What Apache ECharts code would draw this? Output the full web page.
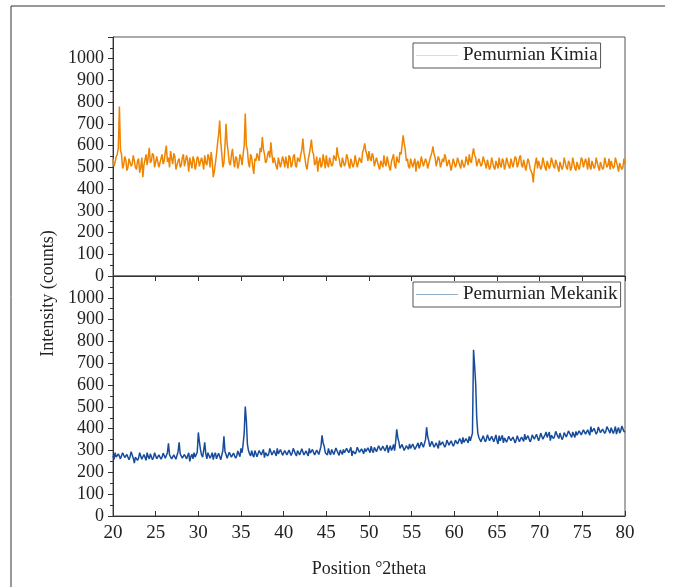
<!DOCTYPE html>
<html>
<head>
<meta charset="utf-8">
<script src="https://cdn.jsdelivr.net/npm/echarts@6/dist/echarts.min.js"></script>
<style>
  html, body { margin: 0; padding: 0; background: #fff; }
  #chart { width: 680px; height: 587px; }
</style>
</head>
<body>
<div id="chart"></div>
<script>
// scan settings, degrees 2theta
const startAngle = 20;
const stepAngle = 0.125;

const yTicks = [0, 100, 200, 300, 400, 500, 600, 700, 800, 900, 1000];

// counts, one row = 5 degrees
const kimia = [
  540, 505, 525, 550, 560, 590, 780, 580, 560, 495, 510, 550, 535, 485, 500, 540, 545, 505, 515, 555, 530, 500, 490, 530, 540, 475, 500, 545, 455, 510, 535, 560, 510, 545, 590, 520, 530, 565, 555, 500,
  505, 550, 545, 500, 520, 540, 560, 515, 530, 570, 600, 525, 545, 500, 575, 540, 515, 565, 550, 490, 495, 530, 540, 500, 510, 545, 560, 505, 500, 555, 530, 480, 545, 520, 495, 550, 535, 490, 510, 550,
  540, 505, 500, 545, 525, 490, 555, 520, 510, 560, 545, 500, 570, 530, 455, 480, 520, 560, 610, 650, 715, 620, 560, 500, 520, 600, 700, 610, 570, 520, 510, 555, 585, 530, 500, 550, 540, 495, 515, 560,
  545, 510, 560, 600, 748, 600, 580, 520, 500, 560, 545, 505, 470, 540, 530, 565, 560, 530, 590, 570, 640, 585, 560, 520, 530, 560, 575, 545, 615, 560, 520, 545, 550, 505, 490, 545, 540, 500, 505, 550,
  530, 500, 550, 520, 495, 555, 545, 500, 515, 550, 560, 510, 500, 545, 550, 525, 560, 580, 633, 570, 540, 505, 490, 535, 560, 590, 628, 575, 560, 510, 520, 550, 480, 525, 545, 500, 510, 560, 530, 495,
  555, 515, 500, 545, 540, 505, 515, 555, 560, 530, 592, 555, 540, 510, 500, 545, 550, 505, 520, 560, 545, 510, 495, 540, 535, 500, 515, 555, 550, 500, 505, 545, 545, 520, 570, 585, 610, 575, 560, 530,
  575, 540, 530, 565, 550, 505, 500, 545, 540, 505, 490, 530, 530, 500, 555, 520, 505, 550, 545, 500, 485, 525, 530, 560, 510, 495, 550, 530, 520, 570, 560, 600, 647, 610, 580, 530, 540, 505, 495, 540,
  535, 500, 505, 540, 480, 520, 530, 495, 510, 550, 545, 505, 500, 540, 525, 495, 490, 535, 540, 570, 596, 560, 545, 505, 510, 550, 535, 500, 495, 540, 525, 560, 545, 505, 500, 535, 530, 485, 490, 540,
  535, 500, 515, 545, 550, 510, 495, 535, 530, 500, 510, 550, 545, 510, 560, 530, 520, 560, 587, 555, 545, 505, 500, 540, 540, 505, 515, 550, 555, 515, 495, 535, 530, 490, 505, 545, 540, 500, 490, 530,
  525, 495, 545, 510, 500, 540, 530, 490, 510, 545, 550, 505, 495, 540, 535, 500, 505, 550, 540, 500, 515, 545, 555, 510, 500, 535, 530, 485, 490, 540, 525, 495, 500, 470, 431, 490, 520, 545, 495, 530,
  530, 490, 505, 545, 545, 500, 485, 530, 525, 495, 510, 545, 550, 505, 495, 535, 530, 500, 480, 525, 525, 490, 505, 545, 545, 500, 490, 530, 520, 485, 500, 545, 540, 495, 485, 525, 525, 490, 510, 545,
  535, 500, 495, 540, 520, 490, 545, 505, 490, 530, 525, 495, 505, 545, 550, 500, 485, 525, 530, 490, 500, 545, 540, 500, 510, 540, 490, 530, 535, 495, 505, 545, 545, 505, 480, 520, 525, 490, 500, 540,
  515
];

// counts
const mekanik = [
  275, 260, 290, 270, 265, 285, 282, 262, 270, 290, 295, 268, 260, 282, 280, 258, 272, 295, 288, 265, 242, 270, 278, 255, 265, 290, 285, 260, 258, 282, 276, 255, 290, 272, 262, 285, 280, 258, 268, 290,
  285, 262, 255, 280, 278, 260, 270, 288, 292, 265, 262, 290, 333, 280, 275, 262, 258, 280, 283, 260, 268, 295, 338, 285, 280, 265, 260, 282, 285, 262, 270, 290, 250, 272, 283, 262, 290, 270, 275, 292,
  383, 340, 305, 280, 270, 300, 338, 285, 262, 290, 285, 265, 275, 290, 258, 280, 290, 262, 268, 288, 280, 258, 260, 300, 365, 295, 282, 265, 268, 292, 290, 270, 262, 288, 283, 265, 275, 298, 295, 272,
  310, 290, 330, 380, 502, 440, 330, 300, 285, 275, 300, 280, 270, 300, 295, 272, 278, 300, 305, 280, 282, 305, 268, 290, 298, 275, 285, 310, 305, 280, 275, 300, 292, 275, 310, 285, 280, 305, 298, 278,
  285, 300, 305, 280, 278, 302, 300, 278, 290, 310, 312, 285, 275, 300, 298, 280, 285, 308, 305, 280, 272, 298, 295, 275, 310, 288, 285, 305, 300, 280, 278, 302, 305, 282, 290, 320, 370, 335, 320, 290,
  295, 280, 310, 290, 280, 305, 302, 282, 290, 312, 315, 288, 278, 302, 300, 282, 305, 290, 285, 310, 312, 290, 292, 315, 275, 298, 305, 285, 295, 315, 318, 292, 285, 308, 300, 285, 310, 295, 290, 312,
  305, 290, 320, 300, 290, 315, 312, 295, 300, 322, 325, 300, 295, 320, 318, 298, 305, 325, 290, 310, 322, 300, 310, 328, 300, 340, 397, 360, 340, 310, 305, 328, 325, 300, 298, 322, 315, 305, 330, 310,
  310, 330, 328, 305, 300, 325, 335, 310, 318, 338, 340, 315, 310, 350, 407, 365, 345, 318, 320, 342, 338, 315, 312, 335, 330, 310, 345, 325, 318, 340, 335, 315, 325, 348, 350, 325, 322, 345, 340, 320,
  330, 348, 352, 330, 338, 355, 345, 330, 360, 338, 335, 355, 350, 335, 365, 345, 345, 380, 762, 690, 607, 450, 380, 360, 358, 340, 345, 368, 365, 340, 350, 372, 370, 345, 348, 365, 362, 340, 355, 372,
  345, 330, 368, 345, 350, 370, 335, 358, 360, 338, 342, 365, 372, 345, 338, 362, 355, 335, 348, 368, 365, 340, 335, 362, 360, 342, 375, 350, 345, 368, 362, 340, 350, 372, 378, 352, 355, 375, 368, 345,
  360, 380, 375, 352, 350, 372, 385, 360, 362, 385, 345, 370, 378, 355, 365, 388, 390, 365, 355, 380, 372, 350, 360, 382, 385, 362, 368, 390, 395, 370, 360, 385, 378, 360, 388, 370, 365, 390, 395, 372,
  380, 395, 400, 375, 372, 395, 390, 370, 410, 385, 378, 402, 395, 375, 385, 408, 405, 382, 375, 398, 398, 378, 388, 410, 415, 390, 380, 405, 400, 378, 392, 410, 375, 395, 405, 380, 390, 412, 410, 388,
  385
];

const angles = kimia.map((v, i) => startAngle + i * stepAngle);
const pair = arr => arr.map((v, i) => [angles[i], v]);

const serif = 'Liberation Serif';
const labelStyle = { color: '#222', fontFamily: serif, fontSize: 18 };

const yAxisCommon = {
  type: 'value',
  min: 0,
  max: 1100,
  interval: 100,
  axisLine: { show: true, lineStyle: { color: '#333' } },
  axisTick: { show: true, length: 5, lineStyle: { color: '#333' } },
  minorTick: { show: true, splitNumber: 2, length: 3, lineStyle: { color: '#333' } },
  splitLine: { show: false },
  axisLabel: {
    ...labelStyle,
    margin: 9,
    formatter: v => (yTicks.indexOf(v) >= 0 ? String(v) : '')
  }
};

const xAxisCommon = {
  type: 'value',
  min: 20,
  max: 80,
  interval: 5,
  axisLine: { show: true, onZero: false, lineStyle: { color: '#333' } },
  splitLine: { show: false }
};

const legendCommon = {
  orient: 'horizontal',
  icon: 'rect',
  itemWidth: 42,
  itemHeight: 1,
  itemGap: 0,
  padding: [3, 3, 3, 3],
  borderColor: '#555',
  borderWidth: 1,
  textStyle: { color: '#222', fontFamily: serif, fontSize: 19 }
};

const chart = echarts.init(document.getElementById('chart'));
chart.setOption({
  animation: false,
  backgroundColor: '#fff',
  grid: [
    { left: 113, top: 37, width: 512, height: 239, show: true, borderColor: '#555', borderWidth: 1 },
    { left: 113, top: 276, width: 512, height: 240, show: true, borderColor: '#555', borderWidth: 1 }
  ],
  xAxis: [
    {
      ...xAxisCommon,
      gridIndex: 0,
      axisTick: { show: true, inside: false, length: 5, lineStyle: { color: '#333' } },
      axisLabel: { show: false }
    },
    {
      ...xAxisCommon,
      gridIndex: 1,
      axisTick: { show: true, inside: true, length: 5, lineStyle: { color: '#333' } },
      axisLabel: { ...labelStyle, fontSize: 19, margin: 8 },
      name: 'Position °2theta',
      nameLocation: 'middle',
      nameGap: 44,
      nameTextStyle: { color: '#222', fontFamily: serif, fontSize: 18 }
    }
  ],
  yAxis: [
    { ...yAxisCommon, gridIndex: 0 },
    { ...yAxisCommon, gridIndex: 1 }
  ],
  legend: [
    {
      ...legendCommon,
      data: [{ name: 'Pemurnian Kimia', itemStyle: { color: '#f5d7b0' } }],
      left: 413,
      top: 43
    },
    {
      ...legendCommon,
      data: [{ name: 'Pemurnian Mekanik', itemStyle: { color: '#8fb0c8' } }],
      left: 413,
      top: 282
    }
  ],
  graphic: [
    {
      type: 'text',
      left: 39,
      top: 'middle',
      rotation: Math.PI / 2,
      style: { text: 'Intensity (counts)', fill: '#222', font: '18px "Liberation Serif"' }
    },
    { type: 'line', shape: { x1: 11, y1: 6, x2: 665, y2: 6 }, style: { stroke: '#333', lineWidth: 1 } },
    { type: 'line', shape: { x1: 11, y1: 6, x2: 11, y2: 587 }, style: { stroke: '#333', lineWidth: 1 } }
  ],
  series: [
    {
      name: 'Pemurnian Kimia',
      type: 'line',
      xAxisIndex: 0,
      yAxisIndex: 0,
      showSymbol: false,
      symbol: 'none',
      lineStyle: { color: '#ee8400', width: 1.5 },
      itemStyle: { color: '#ee8400' },
      data: pair(kimia)
    },
    {
      name: 'Pemurnian Mekanik',
      type: 'line',
      xAxisIndex: 1,
      yAxisIndex: 1,
      showSymbol: false,
      symbol: 'none',
      lineStyle: { color: '#174c9c', width: 1.5 },
      itemStyle: { color: '#174c9c' },
      data: pair(mekanik)
    }
  ]
});
</script>
</body>
</html>
